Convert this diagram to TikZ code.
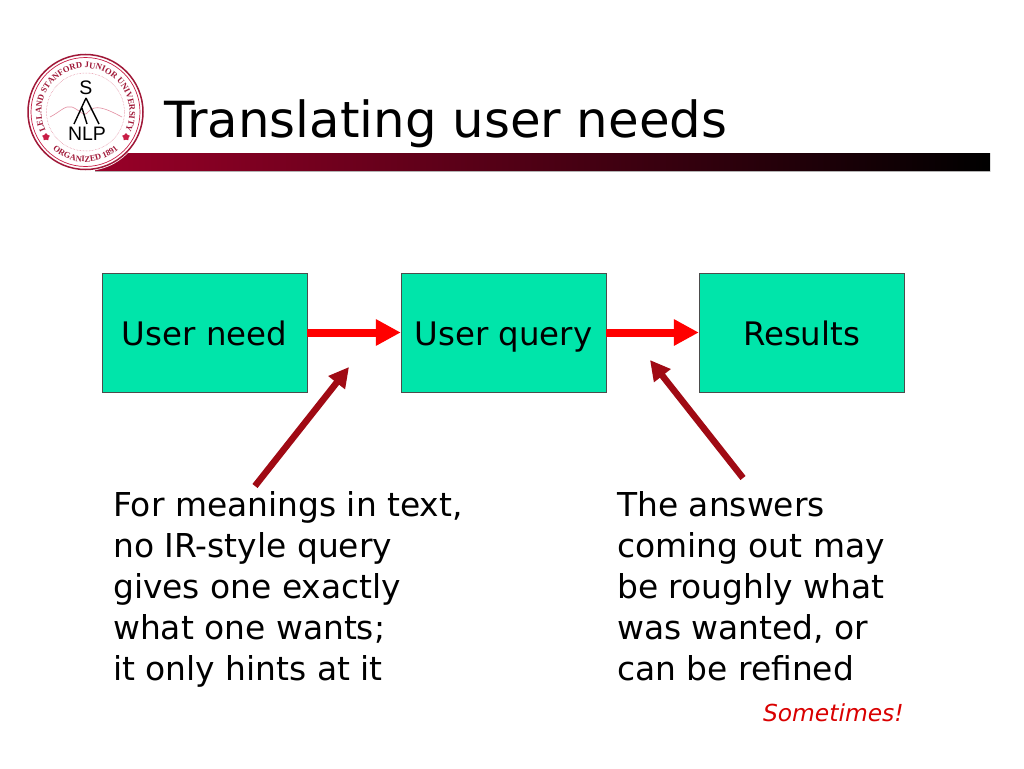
\documentclass[tikz,border=0pt]{standalone}
\usepackage{fontspec}
\setmainfont{DejaVu Sans}
\setsansfont{Liberation Sans}
\newfontfamily\sealfont{Liberation Serif}
\usetikzlibrary{positioning}
\usetikzlibrary{arrows.meta}
\usetikzlibrary{decorations.text}
\usetikzlibrary{shapes.geometric}
\definecolor{barred}{RGB}{153,0,40}
\definecolor{boxgreen}{RGB}{0,229,170}
\definecolor{darkarrow}{RGB}{160,10,20}
\definecolor{sealred}{RGB}{200,30,70}
\tikzset{
    flowbox/.style = {draw = black!70, fill = boxgreen, minimum width = 205pt, minimum height = 119pt, inner sep = 0pt, text height = 25pt, text depth = 0pt, font = \fontsize{32.4}{38}\selectfont},
    flowarrow/.style = {draw = red, line width = 8pt, -{Triangle[length = 25pt, width = 25pt]}},
    notearrow/.style = {draw = darkarrow, line width = 6.5pt, -{Triangle[length = 20pt, width = 20pt]}},
    notetext/.style = {anchor = north west, align = left, inner sep = 0pt, font = \fontsize{32.9}{41}\selectfont},
    sealstar/.style = {star, star points = 5, fill = sealred, minimum size = 8pt, inner sep = 0pt},
    sealtext/.style = {text = black, font = \sffamily\fontsize{19.5}{19.5}\selectfont, inner sep = 0pt}
}
\begin{document}
\begin{tikzpicture}[x = 1pt, y = -1pt]
    \useasboundingbox (0,0) rectangle (1024,768);
    % title bar and seal
    \shade[left color = barred, right color = black] (95,153) rectangle (990,171);
    \draw[black!30, line width = .5pt] (95,171)--(990,171);
    \fill[white] (85.5,112) circle (59);
    \draw[sealred!80!black, line width = 1.5pt] (85.5,112) circle (57.5);
    \draw[sealred, line width = .7pt] (85.5,112) circle (54.5);
    \draw[sealred!60, line width = .5pt, densely dotted] (85.5,112) circle (39);
    \path[decorate, decoration = {text along path, text align = center, text = {|\fontsize{8.6}{8.6}\sealfont\bfseries\color{sealred!80!black}|LELAND STANFORD JUNIOR UNIVERSITY}}]
        (85.5,112) ++(150:44) arc[start angle = 150, end angle = 390, radius = 44];
    \path[decorate, decoration = {text along path, text align = center, text = {|\fontsize{8.5}{8.5}\sealfont\bfseries\color{sealred!80!black}|ORGANIZED 1891}}]
        (85.5,112) ++(140:50) arc[start angle = 140, end angle = 40, radius = 50];
    \draw[sealred!50, line width = .6pt] (50,117)..controls (60,112) and (65,105) .. (72,107) .. controls (80,110) and (84,118) .. (88,112) .. controls (95,104) and (105,108) .. (122,117);
    \node[sealtext] (seals) at (86,88) {S};
    \node[sealtext] (sealnlp) at (87,134) {NLP};
    \draw[black, line width = 1.4pt] (86,98)--(74,124) (86,98)--(99,124) (82,108)--(87,124);
    \node[sealstar] (starleft) at (46,137) {};
    \node[sealstar] (starright) at (126,137) {};
    \node[anchor = base west, inner sep = 0pt, font = \fontsize{49.8}{50}\selectfont] (title) at (164,137) {Translating user needs};
    % the three boxes
    \node[flowbox] (need) at (204.5,332.5) {User need};
    \node[flowbox] (query) at (503.5,332.5) {User query};
    \node[flowbox] (results) at (801.5,332.5) {Results};
    \draw[flowarrow] (need)--(query);
    \draw[flowarrow] (query)--(results);
    % notes under the boxes
    \node[notetext] (leftnote) at (113,491) {For meanings in text,\\no IR-style query\\gives one exactly\\what one wants;\\it only hints at it};
    \node[notetext] (rightnote) at (617,491) {The answers\\coming out may\\be roughly what\\was wanted, or\\can be refined};
    \node[anchor = base east, inner sep = 0pt, text = red!85!black, font = \itshape\fontsize{23.4}{25}\selectfont] (sometimes) at (904,721) {Sometimes!};
    \coordinate (lefttip) at (349,367);
    \coordinate (righttip) at (650,360);
    \coordinate (leftfoot) at (255,486);
    \coordinate (rightfoot) at (743,478);
    \draw[notearrow] (leftfoot)--(lefttip);
    \draw[notearrow] (rightfoot)--(righttip);
\end{tikzpicture}
\end{document}
